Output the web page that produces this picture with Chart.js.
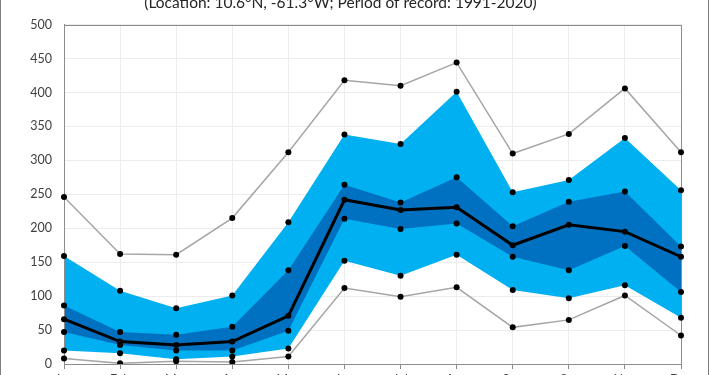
<!DOCTYPE html>
<html>
<head>
<meta charset="utf-8">
<script src="https://cdn.jsdelivr.net/npm/chart.js@4.4.1/dist/chart.umd.min.js"></script>
<style>
  html, body { margin: 0; padding: 0; background: #fff; overflow: hidden; }
  #wrap { position: relative; width: 710px; height: 375px; overflow: hidden; }
  #myChart { position: absolute; left: 0; top: -20px; }
</style>
</head>
<body>
<div id="wrap"><canvas id="myChart" width="710" height="420"></canvas></div>
<script>
const months = ['Jan', 'Feb', 'Mar', 'Apr', 'May', 'Jun', 'Jul', 'Aug', 'Sep', 'Oct', 'Nov', 'Dec'];
const maxRain = [246, 162, 161, 215, 312, 418, 410, 444, 310, 339, 406, 312];
const p90 = [159, 108, 82, 101, 209, 338, 324, 401, 253, 271, 333, 256];
const p75 = [86, 47, 43, 55, 138, 264, 238, 275, 203, 239, 254, 173];
const median = [66, 33, 28, 33, 71, 242, 227, 231, 175, 205, 195, 158];
const p25 = [47, 28, 20, 20, 49, 214, 199, 207, 158, 138, 174, 106];
const p10 = [20, 16, 7, 11, 23, 152, 130, 161, 109, 97, 116, 68];
const minRain = [8, 1, 4, 3, 11, 112, 99, 113, 54, 65, 101, 42];
const yTicks = [0, 50, 100, 150, 200, 250, 300, 350, 400, 450, 500];

const lightBlue = '#00B0F0';
const darkBlue = '#0070C0';
const greyLine = '#A6A6A6';
const font = 'Lato, "Open Sans", sans-serif';

// plot border + outer frame
const frame = {
    id: 'frame',
    beforeDatasetsDraw(chart) {
        const {ctx, chartArea: a} = chart;
        ctx.save();
        ctx.strokeStyle = '#8c8c8c';
        ctx.lineWidth = 1;
        ctx.strokeRect(Math.round(a.left) + 0.5, Math.round(a.top) + 0.5,
            Math.round(a.right - a.left), Math.round(a.bottom - a.top));
        ctx.restore();
    },
    afterDraw(chart) {
        const ctx = chart.ctx;
        ctx.save();
        ctx.strokeStyle = '#7f7f7f';
        ctx.lineWidth = 1;
        ctx.strokeRect(0.5, 0.5, chart.width - 2, chart.height - 1);
        ctx.restore();
    }
};

function band(data, extra) {
    return Object.assign({
        data: data,
        borderWidth: 0,
        borderColor: 'rgba(0,0,0,0)',
        pointRadius: 3,
        pointBackgroundColor: '#000',
        pointBorderWidth: 0,
        fill: false,
        tension: 0
    }, extra);
}

const ctx = document.getElementById('myChart').getContext('2d');

new Chart(ctx, {
    type: 'line',
    data: {
        labels: months,
        datasets: [
            band(median, {label: 'Median', borderColor: '#000', borderWidth: 3}),
            band(p75, {label: '75th percentile', fill: {target: 2}, backgroundColor: darkBlue}),
            band(p25, {label: '25th percentile'}),
            band(p90, {label: '90th percentile', fill: {target: 4}, backgroundColor: lightBlue}),
            band(p10, {label: '10th percentile'}),
            band(maxRain, {label: 'Maximum', borderColor: greyLine, borderWidth: 1.5}),
            band(minRain, {label: 'Minimum', borderColor: greyLine, borderWidth: 1.5})
        ]
    },
    options: {
        responsive: false,
        maintainAspectRatio: false,
        animation: false,
        layout: {padding: {left: 0, right: 29, top: 0, bottom: 0}},
        scales: {
            x: {
                offset: false,
                grid: {color: '#ececec', tickColor: '#8c8c8c', tickLength: 5, drawTicks: true},
                border: {color: '#8c8c8c'},
                ticks: {color: '#404040', font: {family: font, size: 12.5}, padding: 3,
                    maxRotation: 0, autoSkip: false},
                afterFit: s => { s.height = 36; }
            },
            y: {
                min: 0,
                max: 500,
                afterBuildTicks: s => { s.ticks = yTicks.map(v => ({value: v})); },
                grid: {color: '#ececec', drawTicks: false},
                border: {color: '#8c8c8c'},
                ticks: {color: '#404040', font: {family: font, size: 12.5}, padding: 12},
                afterFit: s => { s.width = 64; }
            }
        },
        plugins: {
            legend: {display: false},
            tooltip: {enabled: false},
            filler: {drawTime: 'beforeDatasetsDraw'},
            title: {
                display: true,
                text: '(Location: 10.6\u00B0N, -61.3\u00B0W; Period of record: 1991-2020)',
                color: '#262626',
                font: {family: font, size: 15.5, weight: 'normal'},
                padding: {top: 14, bottom: 12}
            }
        }
    },
    plugins: [frame]
});
</script>
</body>
</html>
